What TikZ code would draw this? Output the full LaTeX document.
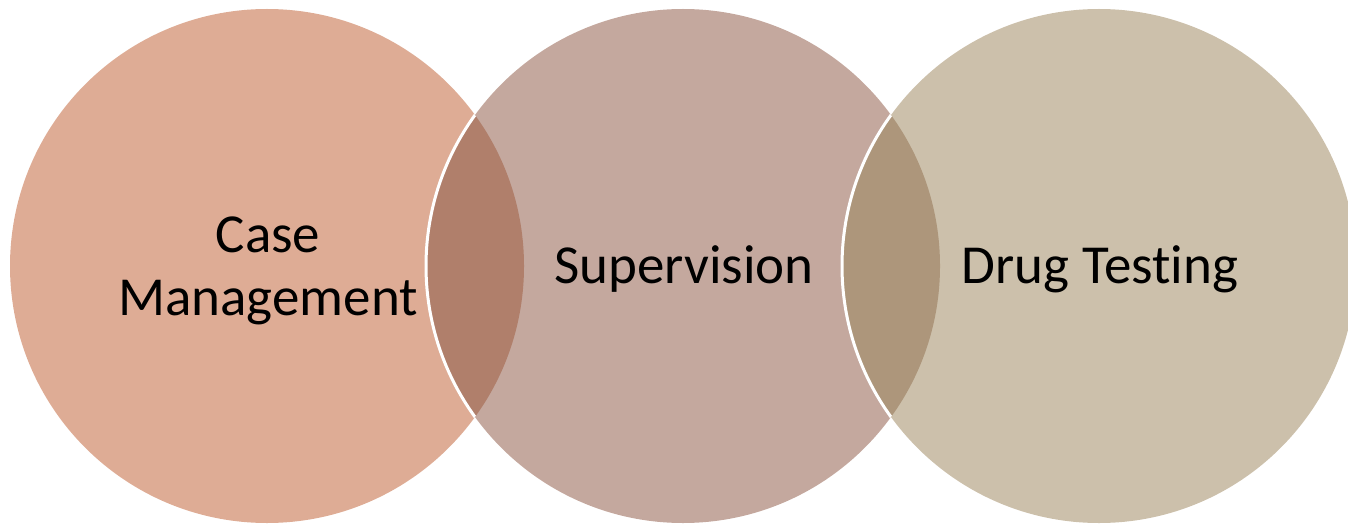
\documentclass[tikz,border=0pt]{standalone}
\usepackage{fontspec}
\setmainfont[Ligatures=NoCommon]{Carlito}
\definecolor{cA}{HTML}{DEAC95}
\definecolor{cB}{HTML}{C4A89E}
\definecolor{cC}{HTML}{CCC0AB}
\definecolor{oAB}{HTML}{B07F6B}
\definecolor{oBC}{HTML}{AD967B}
\tikzset{
  ring/.style={circle, minimum size=514pt, inner sep=0pt, align=center,
    font=\fontsize{55}{63}\selectfont, text=black},
  sep/.style={draw=white, line width=3pt}
}
\begin{document}
\begin{tikzpicture}[x=1pt,y=-1pt]
\useasboundingbox (0,0) rectangle (1348,524);
\clip (0,0) rectangle (1348,524);
\coordinate (p1) at (267,266);
\coordinate (p2) at (683,266);
\coordinate (p3) at (1099,266);
\fill[cA] (p1) circle[radius=257pt];
\fill[cB] (p2) circle[radius=257pt];
\fill[cC] (p3) circle[radius=257pt];
\begin{scope}
  \clip (p1) circle[radius=257pt];
  \fill[oAB] (p2) circle[radius=257pt];
  \draw[sep] (p2) circle[radius=257pt];
\end{scope}
\begin{scope}
  \clip (p2) circle[radius=257pt];
  \fill[oBC] (p3) circle[radius=257pt];
  \draw[sep] (p3) circle[radius=257pt];
\end{scope}
\node[ring] (c1) at (268,271) {Case\\Management};
\node[ring] (c2) at (684,269) {Supervision};
\node[ring] (c3) at (1100,269) {Drug Testing};
\end{tikzpicture}
\end{document}
